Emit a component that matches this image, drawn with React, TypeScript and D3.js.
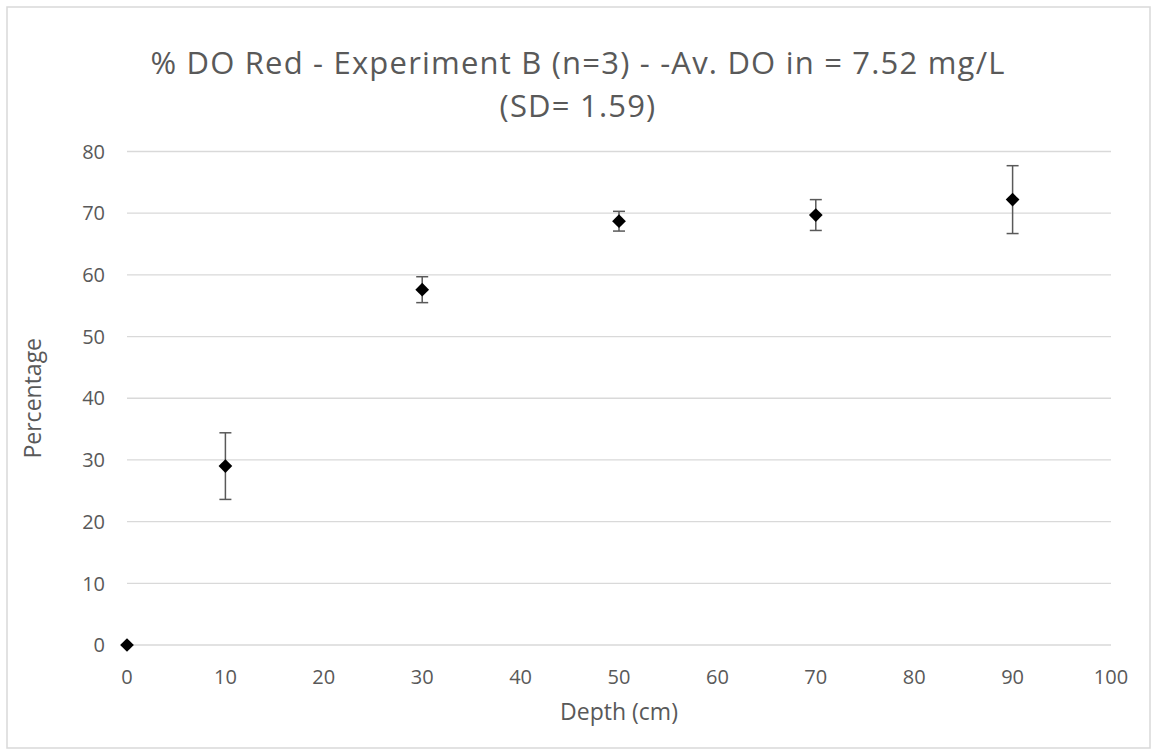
import React from "react";
import * as d3 from "d3";

const depths = [0, 10, 30, 50, 70, 90];
const percentages = [0, 29.0, 57.6, 68.7, 69.7, 72.2];
const errors = [0, 5.4, 2.1, 1.6, 2.5, 5.5];
const xTicks = [0, 10, 20, 30, 40, 50, 60, 70, 80, 90, 100];
const yTicks = [0, 10, 20, 30, 40, 50, 60, 70, 80];
const titleLines = ["% DO Red - Experiment B (n=3) - -Av. DO in = 7.52 mg/L", "(SD= 1.59)"];
const xLabel = "Depth (cm)";
const yLabel = "Percentage";

const W = 1157;
const H = 755;
const FONT = "'Open Sans', 'Liberation Sans', sans-serif";

export default function App() {
  const x = d3.scaleLinear().domain([0, 100]).range([127, 1111]);
  const y = d3.scaleLinear().domain([0, 80]).range([645, 151.5]);
  const diamond = d3.symbol().type(d3.symbolDiamond2).size(120)();
  const cap = 6;
  return (
    <svg width={W} height={H} style={{ position: "absolute", left: 0, top: 0, display: "block" }} fontFamily={FONT}>
      <rect x={0} y={0} width={W} height={H} fill="#fff" />
      <rect x={7} y={7} width={1143} height={741} fill="#fff" stroke="#d9d9d9" strokeWidth={1.5} />
      {titleLines.map((t, i) => (
        <text key={i} x={578} y={74 + i * 42.5} textAnchor="middle" fontSize={31} letterSpacing={1.2} fill="#595959">{t}</text>
      ))}
      {yTicks.map((t) => (
        <g key={t}>
          <line x1={x(0)} x2={x(100)} y1={y(t)} y2={y(t)} stroke="#d9d9d9" strokeWidth={1.3} />
          <text x={105} y={y(t)} dy="0.36em" textAnchor="end" fontSize={20} fill="#595959">{t}</text>
        </g>
      ))}
      {xTicks.map((t) => (
        <text key={t} x={x(t)} y={684} textAnchor="middle" fontSize={20} fill="#595959">{t}</text>
      ))}
      <text x={619} y={720} textAnchor="middle" fontSize={23} fill="#595959">{xLabel}</text>
      <text transform={`translate(33,${y(40)}) rotate(-90)`} dy="0.36em" textAnchor="middle" fontSize={23} fill="#595959">{yLabel}</text>
      {depths.map((d, i) => {
        const cx = x(d);
        const e = errors[i];
        return (
          <g key={d}>
            {e > 0 && (
              <g stroke="#595959" strokeWidth={1.5}>
                <line x1={cx} x2={cx} y1={y(percentages[i] + e)} y2={y(percentages[i] - e)} />
                <line x1={cx - cap} x2={cx + cap} y1={y(percentages[i] + e)} y2={y(percentages[i] + e)} />
                <line x1={cx - cap} x2={cx + cap} y1={y(percentages[i] - e)} y2={y(percentages[i] - e)} />
              </g>
            )}
            <path d={diamond} transform={`translate(${cx},${y(percentages[i])})`} fill="#000" />
          </g>
        );
      })}
    </svg>
  );
}
